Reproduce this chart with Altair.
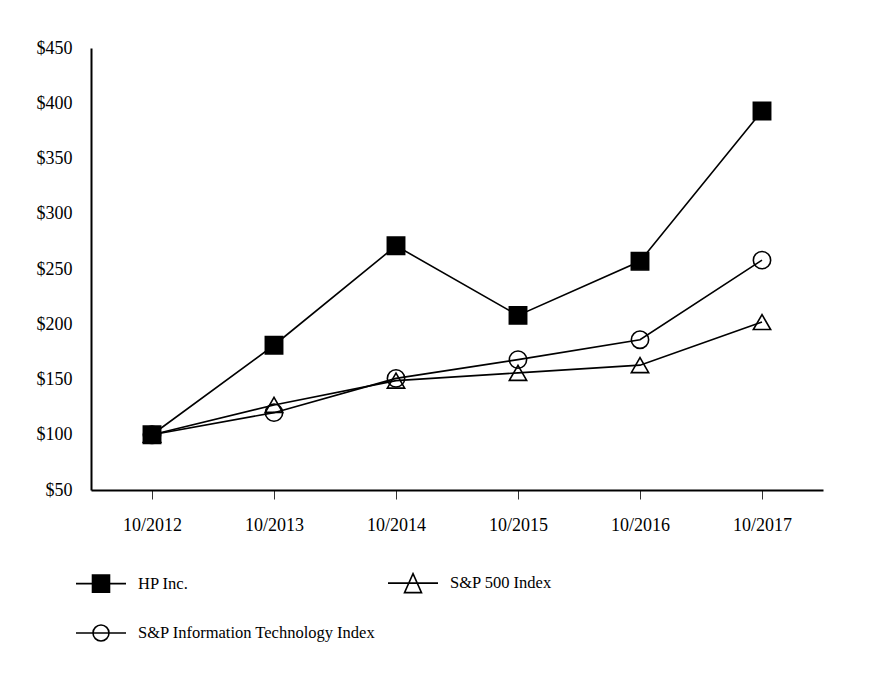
import altair as alt
import pandas as pd

periods = ["10/2012", "10/2013", "10/2014", "10/2015", "10/2016", "10/2017"]
series_names = ["HP Inc.", "S&P 500 Index", "S&P Information Technology Index"]
hp_values = [100, 181, 271, 208, 257, 393]
sp500_values = [100, 127, 149, 156, 163, 202]
sp_it_values = [100, 120, 151, 168, 186, 258]
y_ticks = [50, 100, 150, 200, 250, 300, 350, 400, 450]

rows = []
for name, vals in zip(series_names, [hp_values, sp500_values, sp_it_values]):
    for p, v in zip(periods, vals):
        rows.append({"period": p, "value": v, "series": name})
df = pd.DataFrame(rows)

FONT = "Liberation Serif"

# marker shapes in the plot
marker_shapes = ["square", "triangle-up", "circle"]
marker_fills = ["black", "transparent", "transparent"]

# legend symbols: line segment + marker, drawn with strokes only
hatch = "".join(f"M-0.34,{(-0.34 + 0.04 * i):.2f}H0.34" for i in range(18))
legend_paths = [
    "M-1,0H1M-0.34,-0.34H0.34V0.34H-0.34Z" + hatch,
    "M-1,0H1M0,-0.38L0.34,0.38L-0.34,0.38Z",
    "M-1,0H1M0.32,0A0.32,0.32,0,1,1,-0.32,0A0.32,0.32,0,1,1,0.32,0Z",
]

x_enc = alt.X(
    "period:O",
    scale=alt.Scale(domain=periods, padding=0.5),
    axis=alt.Axis(
        title=None, labelAngle=0, labelFont=FONT, labelFontSize=18,
        labelColor="black", domainColor="black", domainWidth=2,
        tickColor="#333", tickWidth=1, tickSize=9, labelPadding=17, grid=False,
    ),
)
y_enc = alt.Y(
    "value:Q",
    scale=alt.Scale(domain=[50, 450], nice=False, zero=False),
    axis=alt.Axis(
        title=None, values=y_ticks, labelExpr="'$' + datum.value", ticks=False,
        grid=False, domainColor="black", domainWidth=2, labelFont=FONT,
        labelFontSize=18, labelColor="black", labelPadding=19,
    ),
)

base = alt.Chart(df)

lines = base.mark_line(color="black", strokeWidth=1.6).encode(
    x=x_enc, y=y_enc, detail="series:N"
)

points = base.mark_point(filled=True, stroke="black", strokeWidth=1.6, size=300, opacity=1).encode(
    x=x_enc,
    y=y_enc,
    shape=alt.Shape("series:N", scale=alt.Scale(domain=series_names, range=marker_shapes), legend=None),
    fill=alt.Fill("series:N", scale=alt.Scale(domain=series_names, range=marker_fills), legend=None),
)

legend_layer = base.transform_filter("false").mark_point(
    filled=False, color="black", strokeWidth=1.6, opacity=1
).encode(
    x=x_enc,
    y=y_enc,
    shape=alt.Shape(
        "series:N",
        scale=alt.Scale(domain=series_names, range=legend_paths),
        legend=alt.Legend(
            title=None, orient="none", direction="horizontal", legendX=-16, legendY=509,
            columns=2, columnPadding=8, rowPadding=11, padding=0, symbolSize=2500,
            symbolStrokeWidth=1.6, symbolStrokeColor="black", symbolFillColor="transparent",
            symbolOpacity=1, labelOffset=11, labelFont=FONT, labelFontSize=16.5,
            labelColor="black", labelLimit=400,
        ),
    ),
)

chart = (
    alt.layer(lines, points, legend_layer)
    .resolve_scale(shape="independent")
    .properties(
        width=732, height=442,
        background="white",
        autosize=alt.AutoSizeParams(type="none"),
        padding={"left": 83, "top": 40, "right": 40, "bottom": 180},
    )
    .configure_view(strokeWidth=0, stroke="transparent")
)

chart.save("out.html", embed_options={"renderer": "svg", "actions": False})
